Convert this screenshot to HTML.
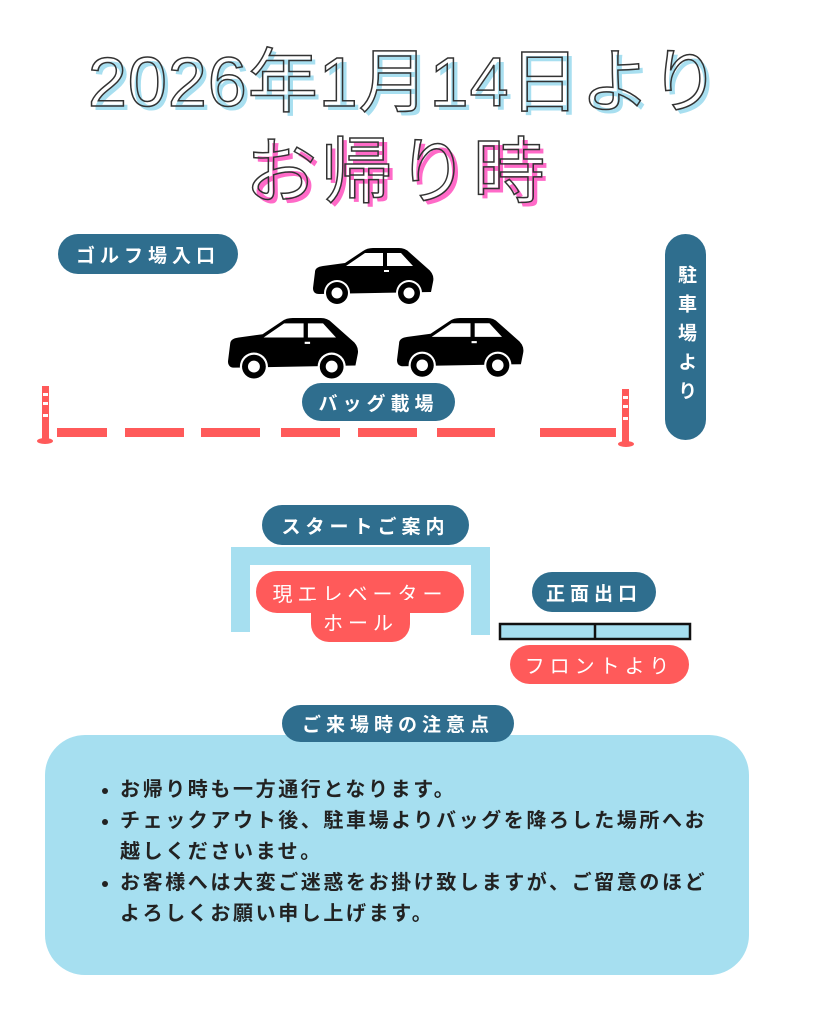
<!DOCTYPE html>
<html><head><meta charset="utf-8"><style>
body{margin:0;background:#fff;}
#c{position:relative;width:819px;height:1024px;overflow:hidden;font-family:"Liberation Sans","Noto Sans CJK JP",sans-serif;}
.a{position:absolute;}
.pill{position:absolute;background:#2f6e8e;color:#fff;border-radius:22px;display:flex;align-items:center;justify-content:center;font-weight:bold;font-size:19px;letter-spacing:5px;}
.red{background:#ff5a5a;}
.t{position:absolute;font-weight:normal;white-space:nowrap;}
</style></head><body><div id="c">
<div class="t" style="left:92px;top:30px;font-size:70px;color:#a8dff0;letter-spacing:1px;">2026年1月14日より</div>
<div class="t" style="left:88px;top:26px;font-size:70px;color:transparent;-webkit-text-stroke:1.5px #333;letter-spacing:1px;">2026年1月14日より</div>
<div class="t" style="left:249px;top:117px;font-size:72px;color:#ff6ac8;letter-spacing:4px;">お帰り時</div>
<div class="t" style="left:245px;top:113px;font-size:72px;color:transparent;-webkit-text-stroke:1.5px #333;letter-spacing:4px;">お帰り時</div>

<div class="pill" style="left:58px;top:234px;width:180px;height:40px;">ゴルフ場入口</div>
<div class="pill" style="left:665px;top:234px;width:41px;height:206px;writing-mode:vertical-rl;letter-spacing:10px;">駐車場より</div>

<svg class="a" style="left:0;top:0" width="819" height="1024">
<defs><g id="car">
<path d="M2 24 Q2 19 10 18 L32 15 L50 3 Q54 0 60 0 L86 0 Q92 0 96 4 L114 20 Q122 26 120 34 L118 44 L6 46 Q0 46 0 40 Z" fill="#000"/>
<polygon points="33,18 52,5 70,5 70,18" fill="#fff"/><polygon points="74,5 88,5 100,18 74,18" fill="#fff"/>
<rect x="71" y="22" width="5" height="2" fill="#fff"/>
<circle cx="24" cy="45" r="13" fill="#fff"/><circle cx="24" cy="45" r="11" fill="#000"/><circle cx="24" cy="45" r="5.5" fill="#fff"/>
<circle cx="96" cy="45" r="13" fill="#fff"/><circle cx="96" cy="45" r="11" fill="#000"/><circle cx="96" cy="45" r="5.5" fill="#fff"/>
</g></defs>
<use href="#car" x="313" y="248"/>
<use href="#car" transform="translate(228,318) scale(1.08)"/>
<use href="#car" transform="translate(397,318) scale(1.05)"/>
<g fill="#ff5a5a">
<rect x="57" y="428" width="50" height="9"/><rect x="125" y="428" width="59" height="9"/><rect x="201" y="428" width="59" height="9"/><rect x="281" y="428" width="59" height="9"/><rect x="358" y="428" width="59" height="9"/><rect x="437" y="428" width="58" height="9"/><rect x="540" y="428" width="76" height="9"/>
<rect x="42" y="386" width="7" height="54"/><ellipse cx="45" cy="441" rx="8" ry="3"/>
<rect x="622" y="389" width="7" height="54"/><ellipse cx="626" cy="444" rx="8" ry="3"/>
</g>
<g fill="#fff"><rect x="43" y="393" width="5" height="3"/><rect x="43" y="402" width="5" height="3"/><rect x="43" y="414" width="5" height="3"/>
<rect x="623" y="396" width="5" height="3"/><rect x="623" y="405" width="5" height="3"/><rect x="623" y="417" width="5" height="3"/></g>
<path d="M231 632 V547 H490 V635 H471 V565 H250 V632 Z" fill="#a6dff0"/>
<rect x="500" y="624" width="190" height="15" fill="#a6dff0" stroke="#111" stroke-width="2.5"/>
<line x1="595" y1="624" x2="595" y2="639" stroke="#111" stroke-width="2.5"/>
</svg>

<div class="pill" style="left:302px;top:383px;width:153px;height:38px;">バッグ載場</div>
<div class="pill" style="left:262px;top:505px;width:207px;height:40px;">スタートご案内</div>
<div class="pill red" style="left:256px;top:571px;width:208px;height:42px;font-weight:normal;font-size:20px;">現エレベーター</div>
<div class="pill red" style="left:311px;top:600px;width:99px;height:42px;border-radius:0 0 18px 18px;font-weight:normal;font-size:20px;">ホール</div>
<div class="pill" style="left:532px;top:572px;width:124px;height:40px;">正面出口</div>
<div class="pill red" style="left:510px;top:645px;width:179px;height:39px;font-weight:normal;font-size:20px;">フロントより</div>

<div class="a" style="left:45px;top:735px;width:704px;height:240px;background:#a6dff0;border-radius:40px;"></div>
<div class="pill" style="left:282px;top:705px;width:232px;height:37px;">ご来場時の注意点</div>
<ul class="a" style="left:80px;top:775px;width:598px;margin:0;padding-left:40px;font-size:20px;font-weight:bold;line-height:31px;color:#222;letter-spacing:2.6px;">
<li>お帰り時も一方通行となります。</li>
<li>チェックアウト後、駐車場よりバッグを降ろした場所へお越しくださいませ。</li>
<li>お客様へは大変ご迷惑をお掛け致しますが、ご留意のほどよろしくお願い申し上げます。</li>
</ul>
</div></body></html>
